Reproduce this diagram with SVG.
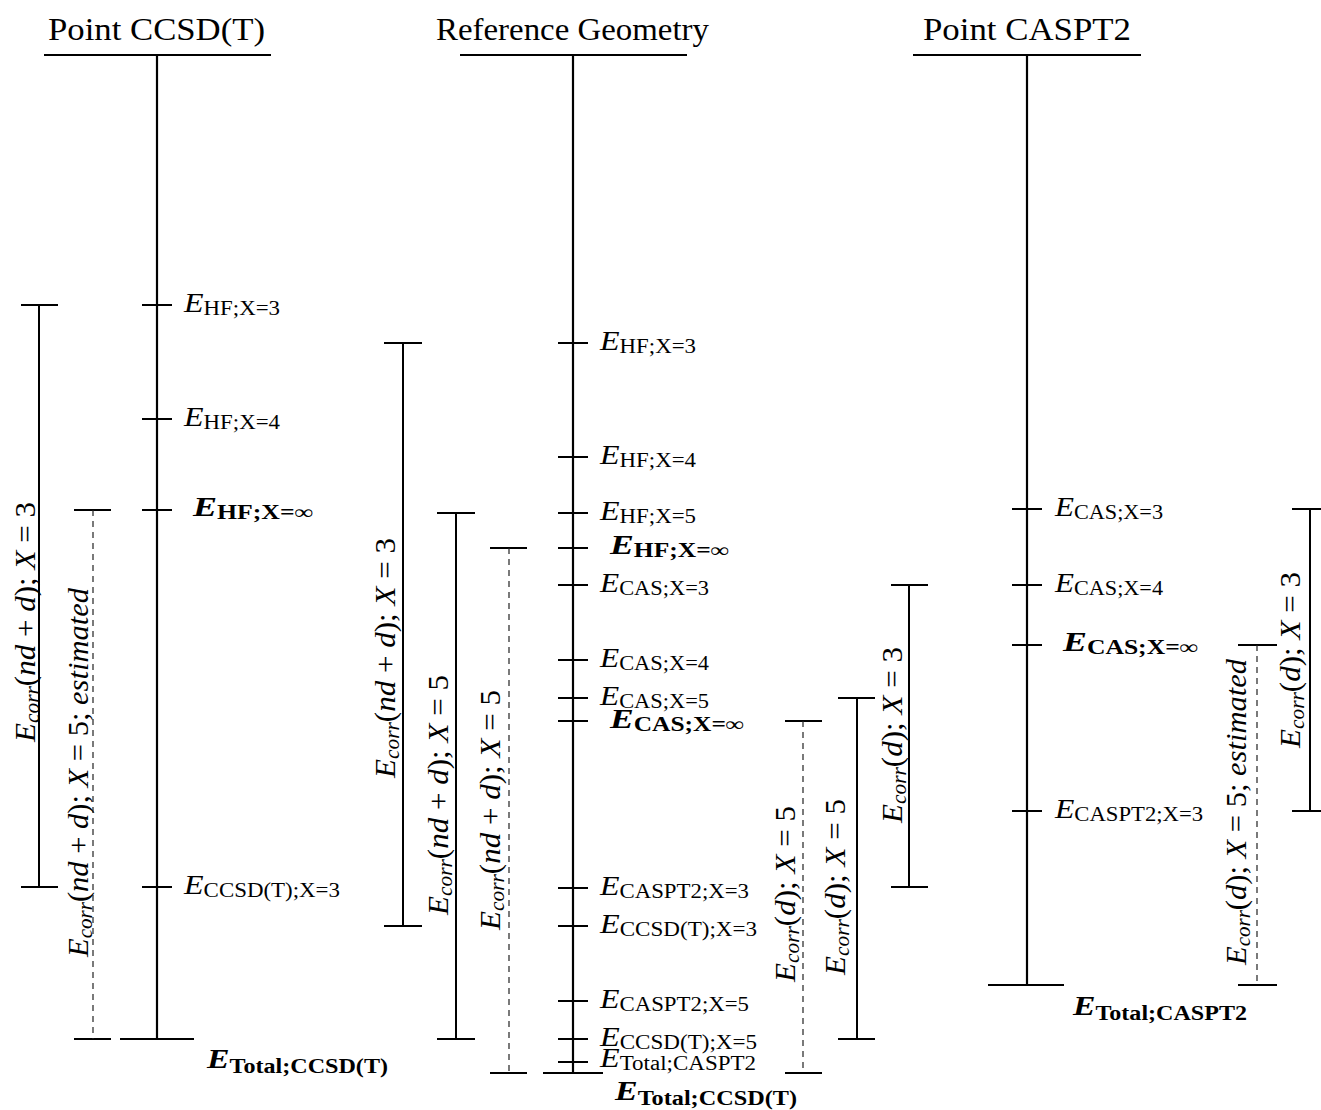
<svg xmlns="http://www.w3.org/2000/svg" width="1321" height="1110" viewBox="0 0 1321 1110">
<style>
text{font-family:"Liberation Serif","Times New Roman",serif;font-size:28px;fill:#000}
.title{font-size:32px}
.i{font-style:italic}
.s{font-size:20px}
.b{font-weight:bold}
.r{font-size:29px}
.ax{stroke:#000;stroke-width:2.2;fill:none}
.tk{stroke:#000;stroke-width:2;fill:none}
.br{stroke:#000;stroke-width:2;fill:none}
.dsh{stroke:#222;stroke-width:1.2;stroke-dasharray:6 5;fill:none}
</style>
<rect width="1321" height="1110" fill="#fff"/>

<g id="col-ccsdt">
<text class="title" x="48" y="40" textLength="217" lengthAdjust="spacingAndGlyphs">Point CCSD(T)</text>
<path class="ax" d="M44 55H271M157 55V1039M120 1039H194"/>
<path class="tk" d="M142 305H172M142 419H172M142 510H172M142 887H172"/>
<text x="184" y="312" textLength="96" lengthAdjust="spacingAndGlyphs"><tspan class="i">E</tspan><tspan class="s" dy="3">HF;X=3</tspan></text>
<text x="184" y="426" textLength="96" lengthAdjust="spacingAndGlyphs"><tspan class="i">E</tspan><tspan class="s" dy="3">HF;X=4</tspan></text>
<text class="b" x="193" y="516" textLength="120" lengthAdjust="spacingAndGlyphs"><tspan class="i">E</tspan><tspan class="s" dy="3">HF;X=∞</tspan></text>
<text x="184" y="894" textLength="156" lengthAdjust="spacingAndGlyphs"><tspan class="i">E</tspan><tspan class="s" dy="3">CCSD(T);X=3</tspan></text>
<text class="b" x="207" y="1068" textLength="181" lengthAdjust="spacingAndGlyphs"><tspan class="i">E</tspan><tspan class="s" dy="5">Total;CCSD(T)</tspan></text>
</g>

<g id="col-ref">
<text class="title" x="436" y="40" textLength="273" lengthAdjust="spacingAndGlyphs">Reference Geometry</text>
<path class="ax" d="M460 55H687M573 55V1073M543 1073H603"/>
<path class="tk" d="M558 343H588M558 457H588M558 513H588M558 548H588M558 585H588M558 660H588M558 698H588M558 721H588M558 888H588M558 926H588M558 1001H588M558 1039H588M558 1062H588"/>
<text x="600" y="350" textLength="96" lengthAdjust="spacingAndGlyphs"><tspan class="i">E</tspan><tspan class="s" dy="3">HF;X=3</tspan></text>
<text x="600" y="464" textLength="96" lengthAdjust="spacingAndGlyphs"><tspan class="i">E</tspan><tspan class="s" dy="3">HF;X=4</tspan></text>
<text x="600" y="520" textLength="96" lengthAdjust="spacingAndGlyphs"><tspan class="i">E</tspan><tspan class="s" dy="3">HF;X=5</tspan></text>
<text class="b" x="610" y="554" textLength="119" lengthAdjust="spacingAndGlyphs"><tspan class="i">E</tspan><tspan class="s" dy="3">HF;X=∞</tspan></text>
<text x="600" y="592" textLength="109" lengthAdjust="spacingAndGlyphs"><tspan class="i">E</tspan><tspan class="s" dy="3">CAS;X=3</tspan></text>
<text x="600" y="667" textLength="109" lengthAdjust="spacingAndGlyphs"><tspan class="i">E</tspan><tspan class="s" dy="3">CAS;X=4</tspan></text>
<text x="600" y="705" textLength="109" lengthAdjust="spacingAndGlyphs"><tspan class="i">E</tspan><tspan class="s" dy="3">CAS;X=5</tspan></text>
<text class="b" x="610" y="728" textLength="134" lengthAdjust="spacingAndGlyphs"><tspan class="i">E</tspan><tspan class="s" dy="3">CAS;X=∞</tspan></text>
<text x="600" y="895" textLength="149" lengthAdjust="spacingAndGlyphs"><tspan class="i">E</tspan><tspan class="s" dy="3">CASPT2;X=3</tspan></text>
<text x="600" y="933" textLength="157" lengthAdjust="spacingAndGlyphs"><tspan class="i">E</tspan><tspan class="s" dy="3">CCSD(T);X=3</tspan></text>
<text x="600" y="1008" textLength="149" lengthAdjust="spacingAndGlyphs"><tspan class="i">E</tspan><tspan class="s" dy="3">CASPT2;X=5</tspan></text>
<text x="600" y="1046" textLength="157" lengthAdjust="spacingAndGlyphs"><tspan class="i">E</tspan><tspan class="s" dy="3">CCSD(T);X=5</tspan></text>
<text x="600" y="1067" textLength="156" lengthAdjust="spacingAndGlyphs"><tspan class="i">E</tspan><tspan class="s" dy="3">Total;CASPT2</tspan></text>
<text class="b" x="615" y="1100" textLength="182" lengthAdjust="spacingAndGlyphs"><tspan class="i">E</tspan><tspan class="s" dy="5">Total;CCSD(T)</tspan></text>
</g>

<g id="col-caspt2">
<text class="title" x="923" y="40" textLength="208" lengthAdjust="spacingAndGlyphs">Point CASPT2</text>
<path class="ax" d="M913 55H1141M1027 55V985M988 985H1064"/>
<path class="tk" d="M1012 509H1042M1012 585H1042M1012 645H1042M1012 811H1042"/>
<text x="1055" y="516" textLength="108" lengthAdjust="spacingAndGlyphs"><tspan class="i">E</tspan><tspan class="s" dy="3">CAS;X=3</tspan></text>
<text x="1055" y="592" textLength="108" lengthAdjust="spacingAndGlyphs"><tspan class="i">E</tspan><tspan class="s" dy="3">CAS;X=4</tspan></text>
<text class="b" x="1063" y="651" textLength="135" lengthAdjust="spacingAndGlyphs"><tspan class="i">E</tspan><tspan class="s" dy="3">CAS;X=∞</tspan></text>
<text x="1055" y="818" textLength="148" lengthAdjust="spacingAndGlyphs"><tspan class="i">E</tspan><tspan class="s" dy="3">CASPT2;X=3</tspan></text>
<text class="b" x="1073" y="1015" textLength="174" lengthAdjust="spacingAndGlyphs"><tspan class="i">E</tspan><tspan class="s" dy="5">Total;CASPT2</tspan></text>
</g>

<g id="connectors">
<path class="br" d="M21 305H58M39 305V887M21 887H58"/>
<path class="tk" d="M74 510H111M74 1039H111"/><path class="dsh" d="M93 510V1039"/>
<path class="br" d="M384 343H422M403 343V926M384 926H422"/>
<path class="br" d="M437 513H475M456 513V1039M437 1039H475"/>
<path class="tk" d="M490 548H527M490 1073H527"/><path class="dsh" d="M509 548V1073"/>
<path class="tk" d="M785 721H822M785 1073H822"/><path class="dsh" d="M803 721V1073"/>
<path class="br" d="M838 698H875M857 698V1039M838 1039H875"/>
<path class="br" d="M891 585H928M909 585V887M891 887H928"/>
<path class="tk" d="M1238 645H1277M1238 985H1277"/><path class="dsh" d="M1257 645V985"/>
<path class="br" d="M1292 509H1329M1310 509V811M1292 811H1329"/>
</g>

<g id="bracket-labels">
<text class="r" transform="translate(35 742) rotate(-90)" textLength="240" lengthAdjust="spacingAndGlyphs"><tspan class="i">E</tspan><tspan class="i s" dy="4">corr</tspan><tspan dy="-4">(</tspan><tspan class="i">nd</tspan> + <tspan class="i">d</tspan>); <tspan class="i">X</tspan> = 3</text>
<text class="r" transform="translate(88 957) rotate(-90)" textLength="369" lengthAdjust="spacingAndGlyphs"><tspan class="i">E</tspan><tspan class="i s" dy="4">corr</tspan><tspan dy="-4">(</tspan><tspan class="i">nd</tspan> + <tspan class="i">d</tspan>); <tspan class="i">X</tspan> = 5; <tspan class="i">estimated</tspan></text>
<text class="r" transform="translate(395 778) rotate(-90)" textLength="240" lengthAdjust="spacingAndGlyphs"><tspan class="i">E</tspan><tspan class="i s" dy="4">corr</tspan><tspan dy="-4">(</tspan><tspan class="i">nd</tspan> + <tspan class="i">d</tspan>); <tspan class="i">X</tspan> = 3</text>
<text class="r" transform="translate(448 915) rotate(-90)" textLength="240" lengthAdjust="spacingAndGlyphs"><tspan class="i">E</tspan><tspan class="i s" dy="4">corr</tspan><tspan dy="-4">(</tspan><tspan class="i">nd</tspan> + <tspan class="i">d</tspan>); <tspan class="i">X</tspan> = 5</text>
<text class="r" transform="translate(500 930) rotate(-90)" textLength="240" lengthAdjust="spacingAndGlyphs"><tspan class="i">E</tspan><tspan class="i s" dy="4">corr</tspan><tspan dy="-4">(</tspan><tspan class="i">nd</tspan> + <tspan class="i">d</tspan>); <tspan class="i">X</tspan> = 5</text>
<text class="r" transform="translate(795 982) rotate(-90)" textLength="176" lengthAdjust="spacingAndGlyphs"><tspan class="i">E</tspan><tspan class="i s" dy="4">corr</tspan><tspan dy="-4">(</tspan><tspan class="i">d</tspan>); <tspan class="i">X</tspan> = 5</text>
<text class="r" transform="translate(845 975) rotate(-90)" textLength="176" lengthAdjust="spacingAndGlyphs"><tspan class="i">E</tspan><tspan class="i s" dy="4">corr</tspan><tspan dy="-4">(</tspan><tspan class="i">d</tspan>); <tspan class="i">X</tspan> = 5</text>
<text class="r" transform="translate(902 823) rotate(-90)" textLength="176" lengthAdjust="spacingAndGlyphs"><tspan class="i">E</tspan><tspan class="i s" dy="4">corr</tspan><tspan dy="-4">(</tspan><tspan class="i">d</tspan>); <tspan class="i">X</tspan> = 3</text>
<text class="r" transform="translate(1246 965) rotate(-90)" textLength="306" lengthAdjust="spacingAndGlyphs"><tspan class="i">E</tspan><tspan class="i s" dy="4">corr</tspan><tspan dy="-4">(</tspan><tspan class="i">d</tspan>); <tspan class="i">X</tspan> = 5; <tspan class="i">estimated</tspan></text>
<text class="r" transform="translate(1300 748) rotate(-90)" textLength="176" lengthAdjust="spacingAndGlyphs"><tspan class="i">E</tspan><tspan class="i s" dy="4">corr</tspan><tspan dy="-4">(</tspan><tspan class="i">d</tspan>); <tspan class="i">X</tspan> = 3</text>
</g>
</svg>
